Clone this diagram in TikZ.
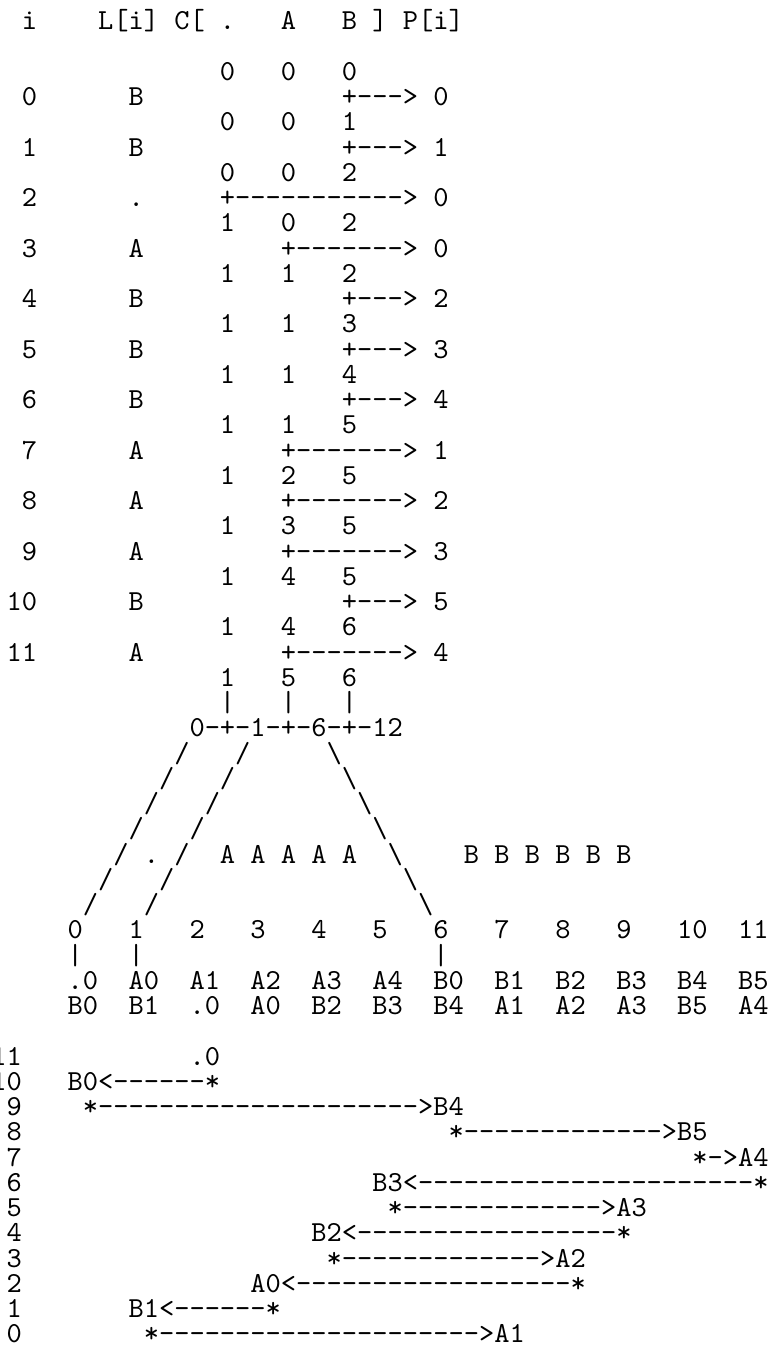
\documentclass[tikz,border=0pt]{standalone}
\usepackage{tikz}
\font\asciitt="[lmmono10-regular]" at 29.03pt

\begin{document}
\begin{tikzpicture}[x=15.24pt, y=-25.25pt, txt/.style={anchor=base west, inner sep=0pt, font=\asciitt}]

\useasboundingbox (0.579,-1.184) rectangle (51.17,52.16);

\node[txt] (head) at (2,0) {i~~~~L[i]~C[~.~~~A~~~B~]~P[i]};

\node[txt] (c0) at (15,2) {0~~~0~~~0};
\node[txt] (r0) at (2,3) {0~~~~~~B};
\node[txt] (p0) at (23,3) {+--->~0};
\node[txt] (c1) at (15,4) {0~~~0~~~1};
\node[txt] (r1) at (2,5) {1~~~~~~B};
\node[txt] (p1) at (23,5) {+--->~1};
\node[txt] (c2) at (15,6) {0~~~0~~~2};
\node[txt] (r2) at (2,7) {2~~~~~~.};
\node[txt] (p2) at (15,7) {+----------->~0};
\node[txt] (c3) at (15,8) {1~~~0~~~2};
\node[txt] (r3) at (2,9) {3~~~~~~A};
\node[txt] (p3) at (19,9) {+------->~0};
\node[txt] (c4) at (15,10) {1~~~1~~~2};
\node[txt] (r4) at (2,11) {4~~~~~~B};
\node[txt] (p4) at (23,11) {+--->~2};
\node[txt] (c5) at (15,12) {1~~~1~~~3};
\node[txt] (r5) at (2,13) {5~~~~~~B};
\node[txt] (p5) at (23,13) {+--->~3};
\node[txt] (c6) at (15,14) {1~~~1~~~4};
\node[txt] (r6) at (2,15) {6~~~~~~B};
\node[txt] (p6) at (23,15) {+--->~4};
\node[txt] (c7) at (15,16) {1~~~1~~~5};
\node[txt] (r7) at (2,17) {7~~~~~~A};
\node[txt] (p7) at (19,17) {+------->~1};
\node[txt] (c8) at (15,18) {1~~~2~~~5};
\node[txt] (r8) at (2,19) {8~~~~~~A};
\node[txt] (p8) at (19,19) {+------->~2};
\node[txt] (c9) at (15,20) {1~~~3~~~5};
\node[txt] (r9) at (2,21) {9~~~~~~A};
\node[txt] (p9) at (19,21) {+------->~3};
\node[txt] (c10) at (15,22) {1~~~4~~~5};
\node[txt] (r10) at (1,23) {10~~~~~~B};
\node[txt] (p10) at (23,23) {+--->~5};
\node[txt] (c11) at (15,24) {1~~~4~~~6};
\node[txt] (r11) at (1,25) {11~~~~~~A};
\node[txt] (p11) at (19,25) {+------->~4};
\node[txt] (c12) at (15,26) {1~~~5~~~6};

\node[txt] (bars) at (15,27) {|~~~|~~~|};
\node[txt] (bounds) at (13,28) {0-+-1-+-6-+-12};

\node[txt] (sl29) at (12,29) {/~~~/};
\node[txt] (bs29) at (22,29) {\textbackslash};
\node[txt] (sl30) at (11,30) {/~~~/};
\node[txt] (bs30) at (23,30) {\textbackslash};
\node[txt] (sl31) at (10,31) {/~~~/};
\node[txt] (bs31) at (24,31) {\textbackslash};
\node[txt] (sl32) at (9,32) {/~~~/};
\node[txt] (bs32) at (25,32) {\textbackslash};
\node[txt] (sl33) at (8,33) {/~.~/};
\node[txt] (as) at (15,33) {A~A~A~A~A};
\node[txt] (bs33) at (26,33) {\textbackslash};
\node[txt] (bees) at (31,33) {B~B~B~B~B~B};
\node[txt] (sl34) at (7,34) {/~~~/};
\node[txt] (bs34) at (27,34) {\textbackslash};
\node[txt] (sl35) at (6,35) {/~~~/};
\node[txt] (bs35) at (28,35) {\textbackslash};

\node[txt] (idx) at (5,36) {0~~~1~~~2~~~3~~~4~~~5~~~6~~~7~~~8~~~9~~~10~~11};
\node[txt] (tk01) at (5,37) {|~~~|};
\node[txt] (tk6) at (29,37) {|};
\node[txt] (sa) at (5,38) {.0~~A0~~A1~~A2~~A3~~A4~~B0~~B1~~B2~~B3~~B4~~B5};
\node[txt] (bwt) at (5,39) {B0~~B1~~.0~~A0~~B2~~B3~~B4~~A1~~A2~~A3~~B5~~A4};

\node[txt] (k11) at (0,41) {11};
\node[txt] (k10) at (0,42) {10};
\node[txt] (k9) at (1,43) {9};
\node[txt] (k8) at (1,44) {8};
\node[txt] (k7) at (1,45) {7};
\node[txt] (k6) at (1,46) {6};
\node[txt] (k5) at (1,47) {5};
\node[txt] (k4) at (1,48) {4};
\node[txt] (k3) at (1,49) {3};
\node[txt] (k2) at (1,50) {2};
\node[txt] (k1) at (1,51) {1};
\node[txt] (k0) at (1,52) {0};

\node[txt] (w11) at (13,41) {.0};
\node[txt] (w10) at (5,42) {B0<------*};
\node[txt] (w9) at (6,43) {*--------------------->B4};
\node[txt] (w8) at (30,44) {*------------->B5};
\node[txt] (w7) at (46,45) {*->A4};
\node[txt] (w6) at (25,46) {B3<----------------------*};
\node[txt] (w5) at (26,47) {*------------->A3};
\node[txt] (w4) at (21,48) {B2<-----------------*};
\node[txt] (w3) at (22,49) {*------------->A2};
\node[txt] (w2) at (17,50) {A0<------------------*};
\node[txt] (w1) at (9,51) {B1<------*};
\node[txt] (w0) at (10,52) {*--------------------->A1};

\end{tikzpicture}
\end{document}
